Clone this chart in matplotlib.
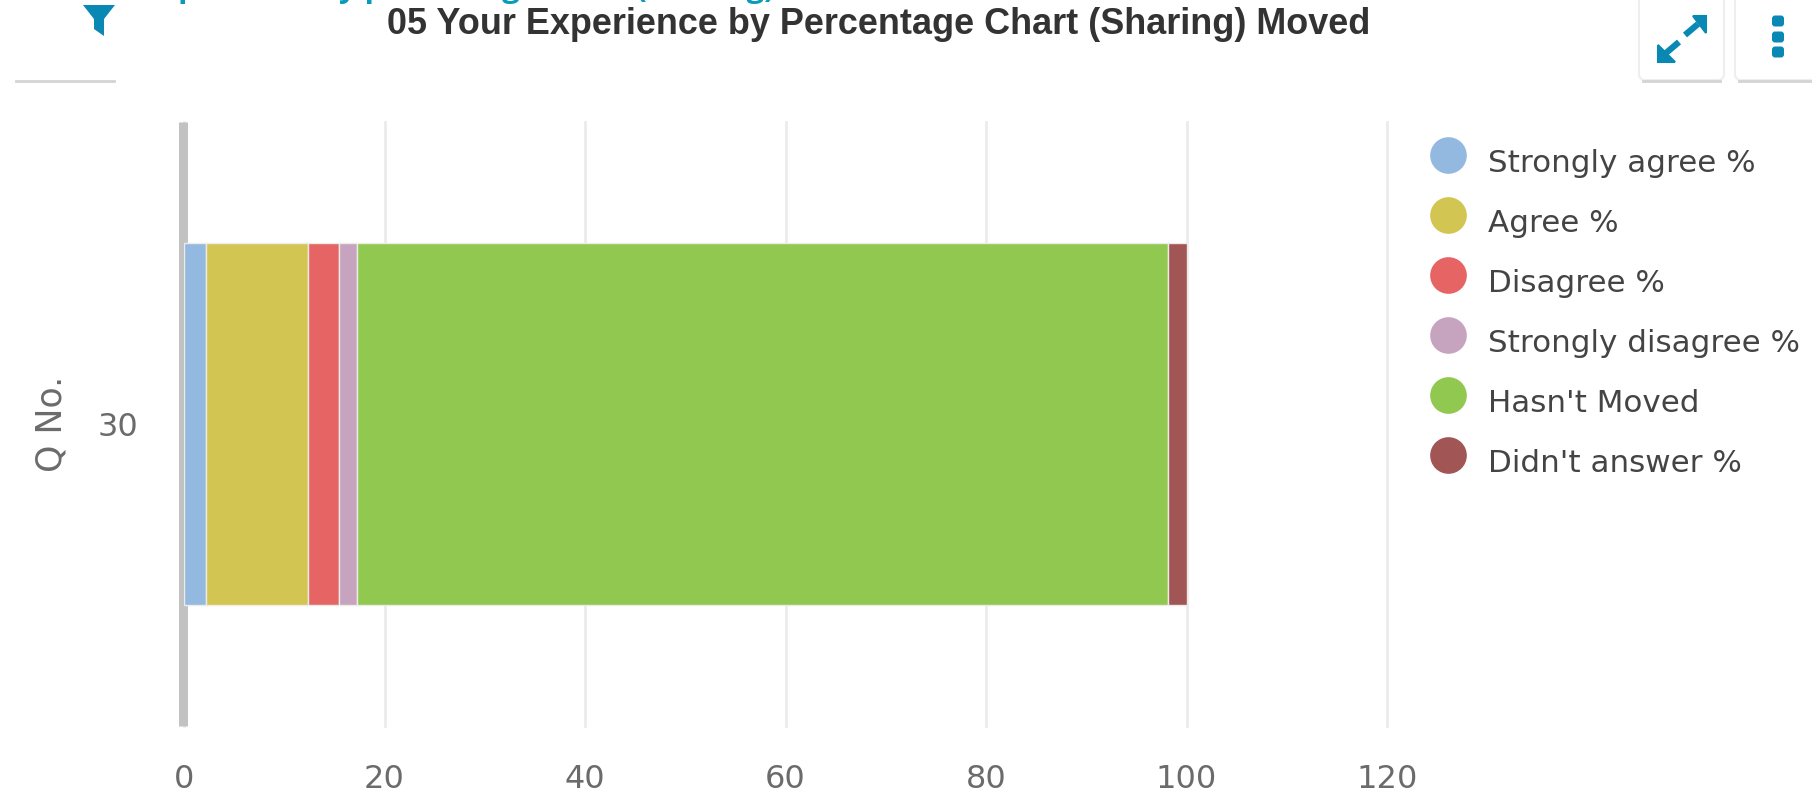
import matplotlib
matplotlib.use("Agg")
import matplotlib.pyplot as plt
from matplotlib.patches import FancyBboxPatch, Polygon

categories = ["30"]
series_names = ["Strongly agree %", "Agree %", "Disagree %", "Strongly disagree %", "Hasn't Moved", "Didn't answer %"]
series_colors = ["#93b9e0", "#d3c552", "#e66464", "#c6a4c0", "#90c850", "#a25555"]
series_values = [2.2, 10.2, 3.1, 1.8, 80.9, 1.8]
x_ticks = [0, 20, 40, 60, 80, 100, 120]
title = "05 Your Experience by Percentage Chart (Sharing) Moved"
y_title = "Q No."

W, H = 1812, 795
TEAL = "#0a88b4"
GREY = "#6b6b6b"

fig = plt.figure(figsize=(W / 100, H / 100), dpi=100)

# page layer in pixel coords, top left origin
page = fig.add_axes([0, 0, 1, 1])
page.set_xlim(0, W)
page.set_ylim(H, 0)
page.axis("off")

ax = fig.add_axes([184 / W, 1 - 726 / H, (1387 - 184) / W, (726 - 122) / H])
ax.patch.set_alpha(0)

left = 0
for name, color, val in zip(series_names, series_colors, series_values):
    ax.barh(categories, [val], left=left, height=0.6, color=color, edgecolor="#ecebe6", linewidth=1.0, zorder=3)
    left += val

ax.set_xlim(0, 120)
ax.set_ylim(-0.5, 0.5)
ax.set_xticks(x_ticks)
ax.grid(axis="x", color="#ebebeb", linewidth=2, zorder=1, clip_on=False)
for s in ["top", "right", "bottom"]:
    ax.spines[s].set_visible(False)
ax.spines["left"].set_color("#c2c2c2")
ax.spines["left"].set_linewidth(6.5)
ax.spines["left"].set_capstyle("butt")
ax.spines["left"].set_position(("outward", 1))
ax.spines["left"].set_zorder(2)
ax.tick_params(axis="both", length=0, labelsize=23, labelcolor=GREY)
ax.tick_params(axis="x", pad=27)
ax.tick_params(axis="y", pad=32)
ax.set_ylabel(y_title, fontsize=25, color=GREY, labelpad=21)

page.text(879, 24, title, ha="center", va="center", fontsize=25.9, fontweight="bold",
          family="Liberation Sans", color="#333333")

# heading of the page above, only its descenders show in the screenshot
page.text(143, -3, "Experience by percentage chart (Sharing)", ha="left", va="baseline", fontsize=22.2,
          color="#0a9bb8", fontweight="bold", family="Open Sans")

# legend
for i, (name, color) in enumerate(zip(series_names, series_colors)):
    y = 155 + i * 60
    page.scatter([1448], [y], s=697, color=color, linewidths=0)
    page.text(1488, y + 9, name, ha="left", va="center", fontsize=22.3, color="#444444")

# toolbar buttons
for x0, x1, side in [(12, 118, "none"), (1639, 1724, "#eeeeee"), (1735, 1850, "#eeeeee")]:
    page.add_patch(FancyBboxPatch((x0, -30), x1 - x0, 110, boxstyle="round,pad=0,rounding_size=6",
                                  fc="white", ec=side, lw=1.5, zorder=1))
    page.plot([x0 + 4, x1 - 4], [81, 81], color="#d4d4d4", lw=2, zorder=1.5)

page.add_patch(Polygon([(83, 5), (115, 5), (104, 19), (104, 36), (94, 29), (94, 19)], fc=TEAL, ec="none", zorder=2))

# expand icon
page.add_patch(Polygon([(1706, 16), (1693, 16), (1706, 33)], fc=TEAL, ec=TEAL, lw=1.5, zorder=2))
page.add_patch(Polygon([(1658, 62), (1658, 45), (1675, 62)], fc=TEAL, ec=TEAL, lw=1.5, zorder=2))
page.plot([1685, 1698], [35, 24], color=TEAL, lw=4.5, solid_capstyle="butt", zorder=2)
page.plot([1666, 1679], [53, 42], color=TEAL, lw=4.5, solid_capstyle="butt", zorder=2)

# menu dots
for y in [21, 37, 52]:
    page.add_patch(FancyBboxPatch((1772, y - 5.5), 12, 11, boxstyle="round,pad=0,rounding_size=3",
                                  fc=TEAL, ec="none", zorder=2))

page.set_xlim(0, W)
page.set_ylim(H, 0)

fig.savefig("out.png", dpi=100)
